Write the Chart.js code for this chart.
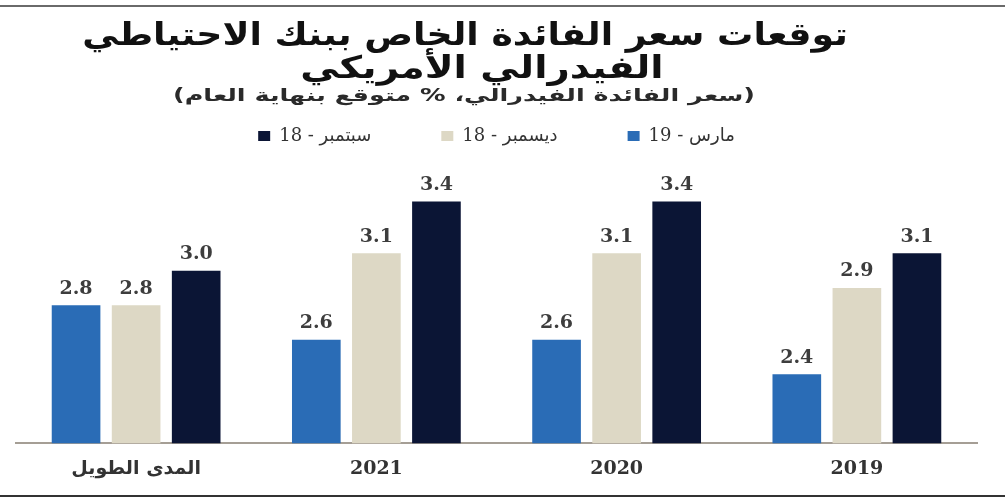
<!DOCTYPE html>
<html>
<head>
<meta charset="utf-8">
<script src="https://cdn.jsdelivr.net/npm/chart.js@4.4.1/dist/chart.umd.min.js"></script>
<style>
html,body{margin:0;padding:0;background:#fff;}
#wrap{position:relative;width:1005px;height:499px;}
</style>
</head>
<body>
<div id="wrap"><canvas id="c"></canvas></div>
<script>
const titleLines = ['توقعات سعر الفائدة الخاص ببنك الاحتياطي', 'الفيدرالي الأمريكي'];
const subtitleText = '(سعر الفائدة الفيدرالي، % متوقع بنهاية العام)';
const categories = ['المدى الطويل', '2021', '2020', '2019'];
const seriesNames = ['مارس - 19', 'ديسمبر - 18', 'سبتمبر - 18'];
const march19 = [2.8, 2.6, 2.6, 2.4];
const december18 = [2.8, 3.1, 3.1, 2.9];
const september18 = [3.0, 3.4, 3.4, 3.1];
const seriesColors = ['#2a6cb6', '#ddd8c5', '#0b1535'];

function stretchedText(ctx, text, cx, cy, sx) {
  ctx.save();
  ctx.translate(cx, cy);
  ctx.scale(sx, 1);
  ctx.fillText(text, 0, 0);
  ctx.restore();
}

const framePlugin = {
  id: 'frame',
  beforeDraw(chart) {
    const ctx = chart.ctx;
    ctx.save();
    ctx.fillStyle = '#fff';
    ctx.fillRect(0, 0, chart.width, chart.height);
    ctx.fillStyle = '#6a6a6a';
    ctx.fillRect(0, 5, chart.width, 2);
    ctx.fillStyle = '#333';
    ctx.fillRect(0, 495, chart.width, 2);
    ctx.restore();
  },
  afterDraw(chart) {
    const ctx = chart.ctx;
    ctx.save();
    ctx.direction = 'rtl';
    ctx.textAlign = 'center';
    ctx.textBaseline = 'middle';
    ctx.fillStyle = '#111';
    ctx.font = 'bold 31px "DejaVu Sans"';
    stretchedText(ctx, titleLines[0], 465, 37, 1.17);
    stretchedText(ctx, titleLines[1], 482, 70, 1.25);
    ctx.font = 'bold 17px "DejaVu Sans"';
    ctx.fillStyle = '#2a2a2a';
    stretchedText(ctx, subtitleText, 464, 97, 1.5);
    ctx.restore();
  }
};

const valueLabels = {
  id: 'valueLabels',
  afterDatasetsDraw(chart) {
    const ctx = chart.ctx;
    ctx.save();
    ctx.font = 'bold 19px "DejaVu Serif"';
    ctx.fillStyle = '#3d3d3d';
    ctx.textAlign = 'center';
    ctx.textBaseline = 'bottom';
    chart.data.datasets.forEach((ds, i) => {
      const meta = chart.getDatasetMeta(i);
      meta.data.forEach((bar, j) => {
        ctx.fillText(ds.data[j].toFixed(1), bar.x, bar.y - 7);
      });
    });
    ctx.restore();
  }
};

new Chart(document.getElementById('c'), {
  type: 'bar',
  data: {
    labels: categories,
    datasets: [
      { label: seriesNames[0], data: march19, backgroundColor: seriesColors[0] },
      { label: seriesNames[1], data: december18, backgroundColor: seriesColors[1] },
      { label: seriesNames[2], data: september18, backgroundColor: seriesColors[2] }
    ]
  },
  options: {
    responsive: true,
    maintainAspectRatio: false,
    animation: false,
    devicePixelRatio: 1,
    layout: { padding: { top: 57, left: 16, right: 28, bottom: 13 } },
    datasets: { bar: { categoryPercentage: 0.75, barPercentage: 0.81 } },
    plugins: {
      legend: {
        display: true,
        position: 'top',
        reverse: true,
        textDirection: 'rtl',
        labels: {
          boxWidth: 12, boxHeight: 10, padding: 70,
          color: '#333',
          font: { family: '"DejaVu Serif", "DejaVu Sans"', size: 18 }
        }
      },
      title: { display: false },
      tooltip: { enabled: false }
    },
    scales: {
      x: {
        grid: { display: false },
        border: { display: true, color: '#a59e95', width: 2 },
        ticks: { color: '#333', padding: 6, font: { family: '"DejaVu Serif", "DejaVu Sans"', size: 19, weight: 'bold' } }
      },
      y: {
        display: false,
        min: 2.0,
        max: 3.67
      }
    }
  },
  plugins: [framePlugin, valueLabels]
});
</script>
</body>
</html>
